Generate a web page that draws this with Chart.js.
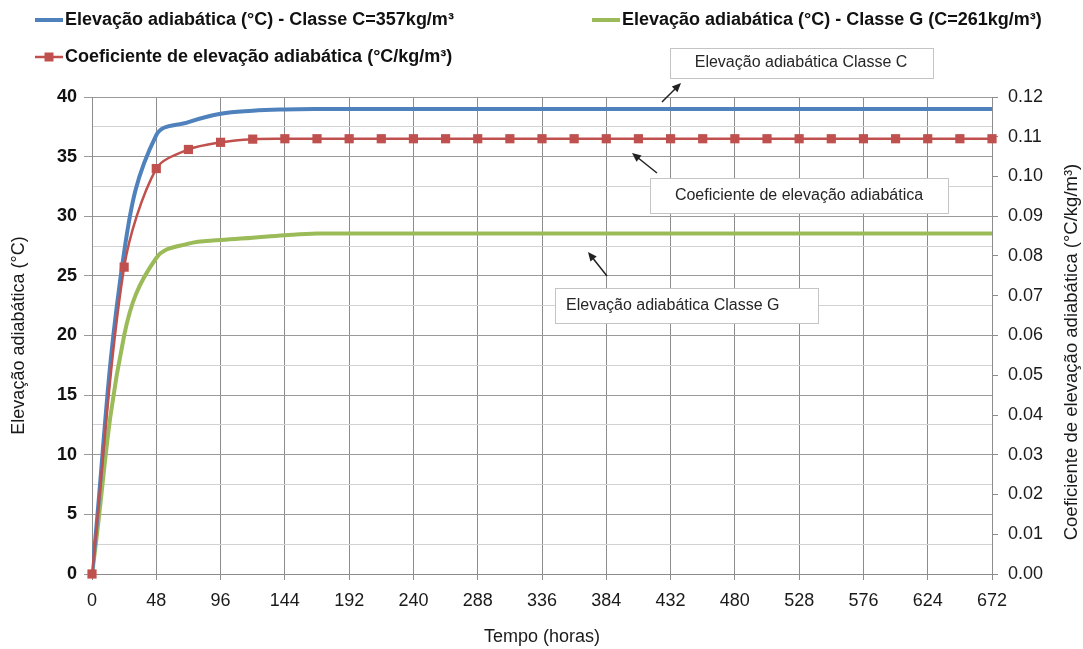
<!DOCTYPE html>
<html>
<head>
<meta charset="utf-8">
<script src="https://cdn.jsdelivr.net/npm/chart.js@4.4.1/dist/chart.umd.min.js"></script>
<style>
  html, body { margin: 0; padding: 0; background: #fff; }
  #wrap { position: relative; width: 1083px; height: 649px; }
</style>
</head>
<body>
<div id="wrap"><canvas id="chart"></canvas></div>
<script>
"use strict";

// tempo em horas (um ponto a cada 24 h)
const hours = [0, 24, 48, 72, 96, 120, 144, 168, 192, 216, 240, 264, 288, 312, 336,
  360, 384, 408, 432, 456, 480, 504, 528, 552, 576, 600, 624, 648, 672];

const labelC = "Elevação adiabática (°C) - Classe C=357kg/m³";
const labelG = "Elevação adiabática (°C) - Classe G (C=261kg/m³)";
const labelCoef = "Coeficiente de elevação adiabática (°C/kg/m³)";

const elevC = [0, 27.0, 36.8, 37.9, 38.6, 38.85, 38.96, 39.0, 39.0, 39.0, 39.0, 39.0, 39.0, 39.0, 39.0,
  39.0, 39.0, 39.0, 39.0, 39.0, 39.0, 39.0, 39.0, 39.0, 39.0, 39.0, 39.0, 39.0, 39.0];

const elevG = [0, 20.0, 26.5, 27.7, 28.0, 28.2, 28.4, 28.55, 28.55, 28.55, 28.55, 28.55, 28.55, 28.55, 28.55,
  28.55, 28.55, 28.55, 28.55, 28.55, 28.55, 28.55, 28.55, 28.55, 28.55, 28.55, 28.55, 28.55, 28.55];

const coef = [0, 0.0772, 0.1020, 0.1068, 0.1086, 0.1094, 0.1095, 0.1095, 0.1095, 0.1095, 0.1095, 0.1095,
  0.1095, 0.1095, 0.1095, 0.1095, 0.1095, 0.1095, 0.1095, 0.1095, 0.1095, 0.1095, 0.1095, 0.1095, 0.1095,
  0.1095, 0.1095, 0.1095, 0.1095];

const xTicks = [0, 48, 96, 144, 192, 240, 288, 336, 384, 432, 480, 528, 576, 624, 672];

const notes = [
  { text: "Elevação adiabática Classe C", box: [670, 48, 263, 30], tx: 801, align: "center", arrow: [662, 102, 681, 83] },
  { text: "Coeficiente de elevação adiabática", box: [650, 178, 298, 35], tx: 799, align: "center", arrow: [657, 173, 632, 153] },
  { text: "Elevação adiabática Classe G", box: [555, 288, 263, 35], tx: 566, align: "left", arrow: [607, 276, 588, 252] },
];

const FONT = '"Liberation Sans", Arial, sans-serif';
Chart.defaults.font.family = FONT;
Chart.defaults.color = "#1a1a1a";

const toXY = (ys) => hours.map((h, i) => ({ x: h, y: ys[i] }));

// legenda desenhada à mão (duas colunas como no original)
const legendPlugin = {
  id: "legendaManual",
  afterDraw(chart, args, opts) {
    const ctx = chart.ctx;
    ctx.save();
    ctx.font = "bold 18px " + FONT;
    ctx.textBaseline = "middle";
    opts.items.forEach((it) => {
      const ds = chart.data.datasets[it.ds];
      ctx.strokeStyle = ds.borderColor;
      ctx.lineWidth = ds.borderWidth;
      ctx.beginPath();
      ctx.moveTo(it.x, it.y);
      ctx.lineTo(it.x + 28, it.y);
      ctx.stroke();
      if (ds.pointRadius > 0) {
        ctx.fillStyle = ds.pointBackgroundColor;
        ctx.fillRect(it.x + 14 - 4.5, it.y - 4.5, 9, 9);
      }
      ctx.fillStyle = "#111";
      ctx.fillText(ds.label, it.x + 30, it.y);
    });
    ctx.restore();
  },
};

const notesPlugin = {
  id: "notas",
  afterDraw(chart) {
    const ctx = chart.ctx;
    ctx.save();
    notes.forEach((n) => {
      const [bx, by, bw, bh] = n.box;
      ctx.fillStyle = "#fff";
      ctx.fillRect(bx, by, bw, bh);
      ctx.strokeStyle = "#c4c4c4";
      ctx.lineWidth = 1;
      ctx.strokeRect(bx + 0.5, by + 0.5, bw, bh);
      ctx.fillStyle = "#262626";
      ctx.font = "16px " + FONT;
      ctx.textBaseline = "middle";
      ctx.textAlign = n.align;
      ctx.fillText(n.text, n.tx, by + bh / 2);

      const [x1, y1, x2, y2] = n.arrow;
      const ang = Math.atan2(y2 - y1, x2 - x1);
      ctx.strokeStyle = "#222";
      ctx.fillStyle = "#222";
      ctx.lineWidth = 1.5;
      ctx.beginPath();
      ctx.moveTo(x1, y1);
      ctx.lineTo(x2 - 6 * Math.cos(ang), y2 - 6 * Math.sin(ang));
      ctx.stroke();
      ctx.beginPath();
      ctx.moveTo(x2, y2);
      ctx.lineTo(x2 - 9 * Math.cos(ang) + 4 * Math.sin(ang), y2 - 9 * Math.sin(ang) - 4 * Math.cos(ang));
      ctx.lineTo(x2 - 9 * Math.cos(ang) - 4 * Math.sin(ang), y2 - 9 * Math.sin(ang) + 4 * Math.cos(ang));
      ctx.closePath();
      ctx.fill();
    });

    // título do eixo direito, lido de baixo para cima como no original
    ctx.font = "18.5px " + FONT;
    ctx.fillStyle = "#1a1a1a";
    ctx.textAlign = "center";
    ctx.textBaseline = "middle";
    ctx.translate(1072, 352);
    ctx.rotate(-Math.PI / 2);
    ctx.fillText(labelCoef, 0, 0);
    ctx.restore();
  },
};

const ctx = document.getElementById("chart").getContext("2d");
new Chart(ctx, {
  type: "line",
  data: {
    datasets: [
      {
        label: labelC,
        data: toXY(elevC),
        yAxisID: "y",
        borderColor: "#4F81BD",
        borderWidth: 4,
        pointRadius: 0,
        tension: 0.4,
        order: 1,
      },
      {
        label: labelG,
        data: toXY(elevG),
        yAxisID: "y",
        borderColor: "#9BBB59",
        borderWidth: 4,
        pointRadius: 0,
        tension: 0.4,
        order: 2,
      },
      {
        label: labelCoef,
        data: toXY(coef),
        yAxisID: "y2",
        borderColor: "#C0504D",
        borderWidth: 2.5,
        pointStyle: "rect",
        pointRadius: 6.5,
        pointBackgroundColor: "#C0504D",
        pointBorderColor: "#C0504D",
        pointBorderWidth: 0,
        tension: 0.3,
        clip: false,
        order: 0,
      },
    ],
  },
  options: {
    responsive: true,
    maintainAspectRatio: false,
    animation: false,
    events: [],
    layout: { padding: { top: 97, left: 4, right: 0, bottom: 0 } },
    plugins: {
      legend: { display: false },
      tooltip: { enabled: false },
      legendaManual: {
        items: [
          { ds: 0, x: 35, y: 20 },
          { ds: 1, x: 592, y: 20 },
          { ds: 2, x: 35, y: 57 },
        ],
      },
    },
    scales: {
      x: {
        type: "linear",
        min: 0,
        max: 672,
        afterFit: (s) => { s.height = 75; },
        afterBuildTicks: (s) => { s.ticks = xTicks.map((v) => ({ value: v })); },
        ticks: { autoSkip: false, maxRotation: 0, padding: 10, font: { size: 18 }, color: "#1a1a1a" },
        grid: { color: "#8c8c8c", tickColor: "#8c8c8c", tickLength: 6, lineWidth: 1 },
        border: { color: "#8c8c8c" },
        title: { display: true, text: "Tempo (horas)", font: { size: 18 }, color: "#1a1a1a", padding: { top: 4, bottom: 1 } },
      },
      y: {
        position: "left",
        min: 0,
        max: 40,
        afterFit: (s) => { s.width = 88; },
        ticks: {
          stepSize: 2.5,
          padding: 7,
          font: { size: 18, weight: "bold" },
          color: "#111",
          callback: (v) => (v % 5 === 0 ? v : ""),
        },
        grid: {
          color: (c) => (c.tick && c.tick.value % 5 === 0 ? "#9a9a9a" : "#d2d2d2"),
          tickColor: (c) => (c.tick && c.tick.value % 5 === 0 ? "#9a9a9a" : "rgba(0,0,0,0)"),
          tickLength: 8,
        },
        border: { color: "#8c8c8c" },
        title: { display: true, text: "Elevação adiabática (°C)", font: { size: 18 }, color: "#1a1a1a", padding: { top: 4, bottom: 4 } },
      },
      y2: {
        position: "right",
        min: 0,
        max: 0.12,
        afterFit: (s) => { s.width = 91; },
        ticks: {
          stepSize: 0.01,
          padding: 10,
          font: { size: 18 },
          color: "#1a1a1a",
          callback: (v) => Number(v).toFixed(2),
        },
        grid: { drawOnChartArea: false, tickColor: "#8c8c8c", tickLength: 6 },
        border: { color: "#8c8c8c" },
        title: { display: false },
      },
    },
  },
  plugins: [legendPlugin, notesPlugin],
});
</script>
</body>
</html>
